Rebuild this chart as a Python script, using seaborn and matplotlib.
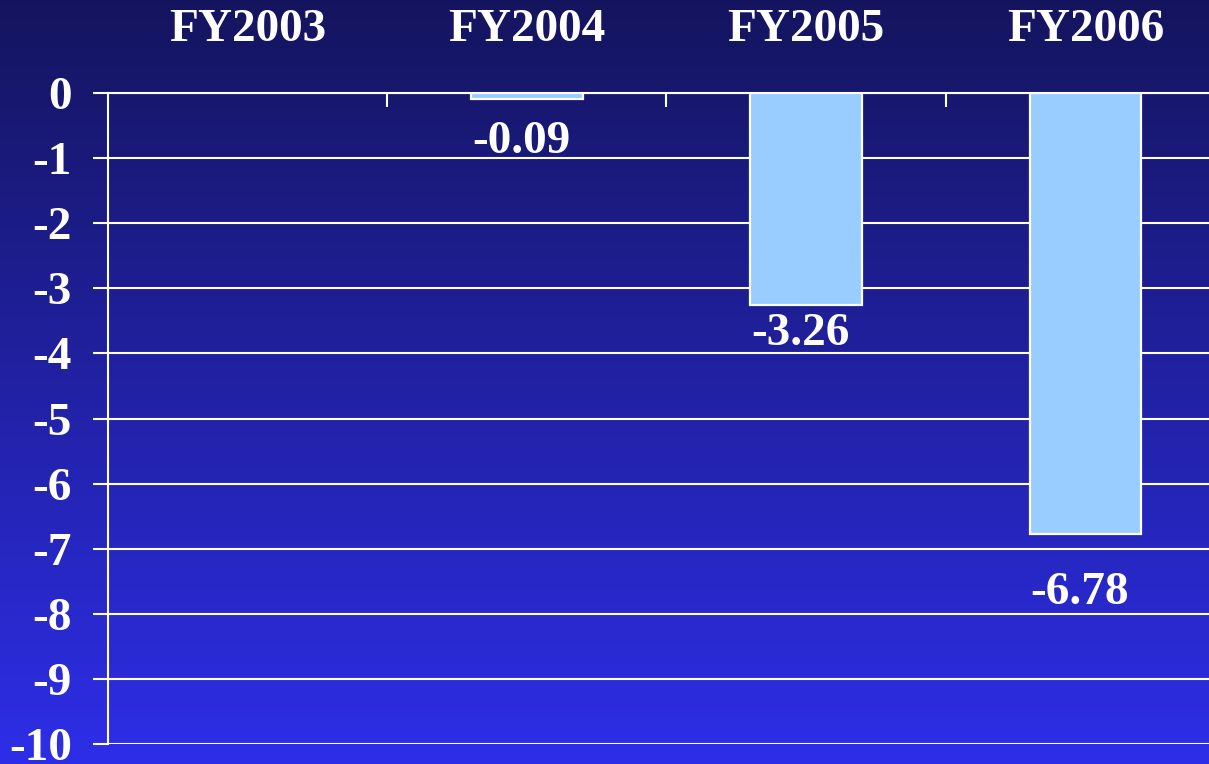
import numpy as np
import pandas as pd
import matplotlib
matplotlib.use("Agg")
import matplotlib.pyplot as plt
import seaborn as sns

# data
years = ["FY2003", "FY2004", "FY2005", "FY2006"]
values = [np.nan, -0.09, -3.26, -6.78]
value_labels = ["", "-0.09", "-3.26", "-6.78"]
label_offsets = [0, 31, 21, 42]   # points below bar end
y_ticks = list(range(0, -11, -1))

df = pd.DataFrame({"Year": years, "Value": values})

sns.set_theme(style="white")
plt.rcParams["font.family"] = ["Liberation Serif", "DejaVu Serif"]
plt.rcParams["font.weight"] = "bold"

fig = plt.figure(figsize=(12.09, 7.64), dpi=100)

# gradient background, dark navy at top to bright blue at bottom
bg = fig.add_axes([0, 0, 1, 1], zorder=0)
top_col = np.array([0.08, 0.08, 0.37])
bot_col = np.array([0.18, 0.18, 0.91])
t = np.linspace(0, 1, 256)[:, None, None]
grad = top_col * (1 - t) + bot_col * t
grad = np.repeat(grad, 2, axis=1)
bg.imshow(grad, aspect="auto", extent=[0, 1, 0, 1])
bg.set_axis_off()

ax = fig.add_axes([108 / 1209, 1 - 744 / 764, (1225 - 108) / 1209, (744 - 93) / 764], zorder=1)
ax.set_facecolor("none")

sns.barplot(data=df, x="Year", y="Value", order=years, color="#99CCFF",
            edgecolor="white", linewidth=1.6, width=0.4, saturation=1,
            ax=ax, zorder=3)

ax.set_ylim(-10, 0)
ax.set_xlim(-0.5, len(years) - 0.5)
ax.set_yticks(y_ticks)
ax.set_yticklabels([str(v) for v in y_ticks])
ax.yaxis.grid(True, color="white", linewidth=1.5, zorder=1)
ax.set_axisbelow(True)

# category labels on top, divider marks between categories
ax.xaxis.tick_top()
ax.set_xticks(range(len(years)))
ax.set_xticklabels(years)
ax.set_xticks(np.arange(0.5, len(years) - 0.5, 1), minor=True)
ax.tick_params(axis="x", which="major", length=0, pad=30, labelsize=34,
               labelcolor="white")
ax.tick_params(axis="x", which="minor", direction="in", length=10, width=1.5,
               color="white", top=True, bottom=False)
ax.tick_params(axis="y", which="major", direction="out", length=11, width=1.5,
               color="white", pad=15, labelsize=34, labelcolor="white", left=True)
for lbl in ax.get_xticklabels() + ax.get_yticklabels():
    lbl.set_fontweight("bold")

for side in ["right", "bottom"]:
    ax.spines[side].set_visible(False)
ax.spines["left"].set_color("white")
ax.spines["left"].set_linewidth(1.5)
ax.spines["top"].set_color("white")
ax.spines["top"].set_linewidth(1.5)

ax.set_xlabel("")
ax.set_ylabel("")

for i, (v, txt, off) in enumerate(zip(values, value_labels, label_offsets)):
    if txt:
        ax.annotate(txt, xy=(i, v), xytext=(-4, -off), textcoords="offset points",
                    ha="center", va="center", fontsize=34, fontweight="bold",
                    color="white", zorder=5)

fig.savefig("out.png", dpi=100)
